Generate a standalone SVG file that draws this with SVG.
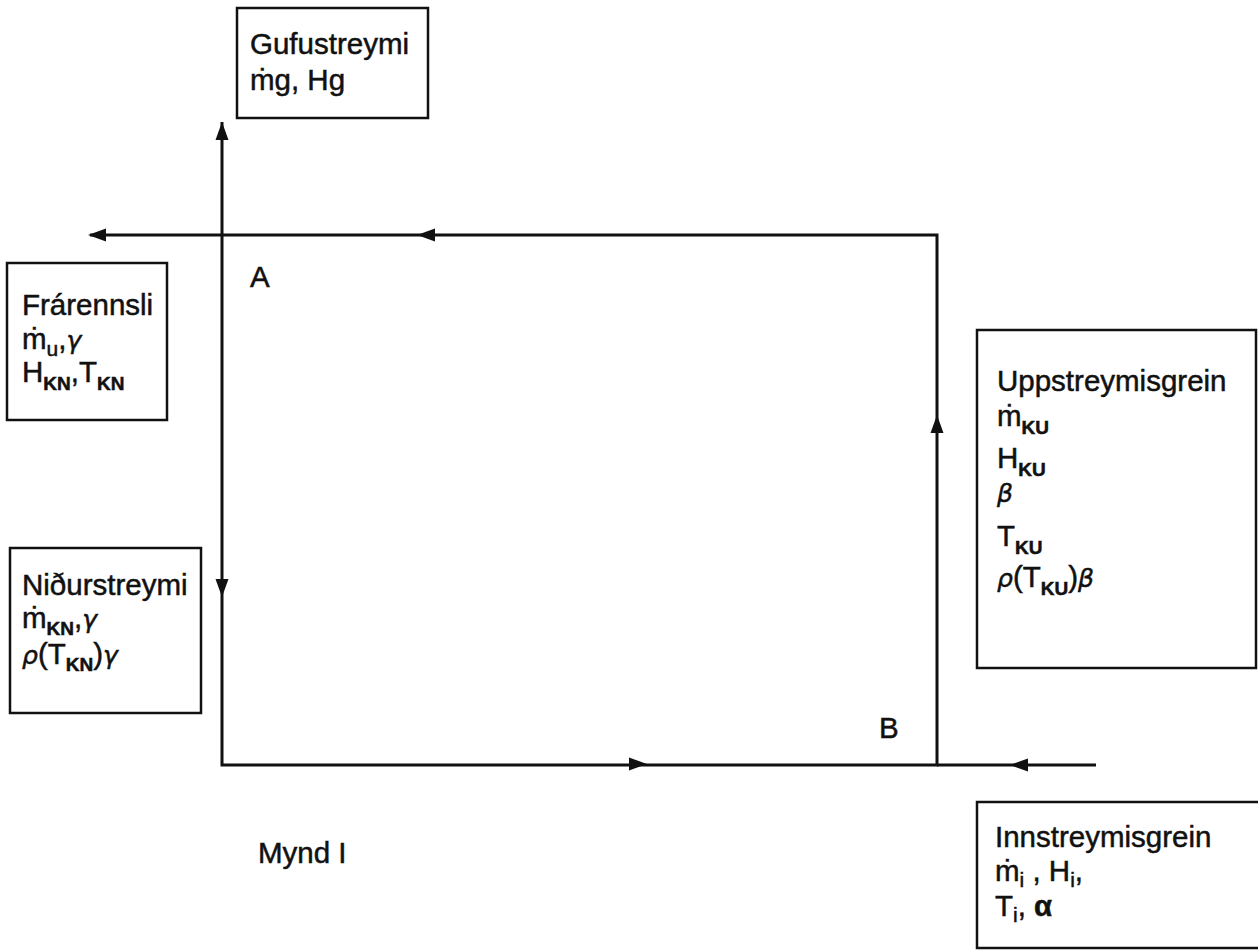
<svg xmlns="http://www.w3.org/2000/svg" xmlns:xlink="http://www.w3.org/1999/xlink" width="1258" height="951" viewBox="0 0 1258 951">
<style>
.box{fill:#fff;stroke:#111;stroke-width:2.5}
.ln{fill:none;stroke:#111;stroke-width:3}
.ah{fill:#111}
text{font-family:"Liberation Sans",Arial,sans-serif;font-size:29.5px;fill:#111;stroke:#111;stroke-width:0.5}
.sub{font-size:19px;font-weight:bold}
.subn{font-size:21px}
.gr{font-family:"DejaVu Sans","Liberation Sans",sans-serif;font-style:italic;font-size:25px}
</style>
<defs>
<path id="ah" class="ah" d="M0,0 L-18,-6.5 L-18,6.5 Z"/>
</defs>
<rect width="1258" height="951" fill="#fff"/>
<g id="connectors">
<path class="ln" d="M222,122 L222,765 L937,765 L937,235 L90,235"/>
<path class="ln" d="M1096,765 L937,765"/>
<use xlink:href="#ah" transform="translate(222,122) rotate(-90)"/>
<use xlink:href="#ah" transform="translate(222,597) rotate(90)"/>
<use xlink:href="#ah" transform="translate(647,764)"/>
<use xlink:href="#ah" transform="translate(1010,765) rotate(180)"/>
<use xlink:href="#ah" transform="translate(937,415) rotate(-90)"/>
<use xlink:href="#ah" transform="translate(417,235) rotate(180)"/>
<use xlink:href="#ah" transform="translate(88,235) rotate(180)"/>
</g>
<g id="gufustreymi">
<rect class="box" x="237" y="8" width="191" height="110"/>
<text x="250" y="54">Gufustreymi</text>
<text x="250" y="90">ṁg, Hg</text>
</g>
<g id="frarennsli">
<rect class="box" x="7" y="263" width="160" height="157"/>
<text x="22" y="315">Frárennsli</text>
<text x="22" y="349">ṁ<tspan class="subn" dy="7">u</tspan><tspan dy="-7">,</tspan><tspan class="gr">γ</tspan></text>
<text x="22" y="382">H<tspan class="sub" dy="8">KN</tspan><tspan dy="-8">,T</tspan><tspan class="sub" dy="8">KN</tspan></text>
</g>
<g id="nidurstreymi">
<rect class="box" x="10" y="548" width="191" height="165"/>
<text x="22" y="595">Niðurstreymi</text>
<text x="22" y="628">ṁ<tspan class="sub" dy="7">KN</tspan><tspan dy="-7">,</tspan><tspan class="gr">γ</tspan></text>
<text x="22" y="664"><tspan class="gr">ρ</tspan>(T<tspan class="sub" dy="7">KN</tspan><tspan dy="-7">)</tspan><tspan class="gr">γ</tspan></text>
</g>
<g id="uppstreymisgrein">
<rect class="box" x="977" y="330" width="279" height="338"/>
<text x="997" y="391">Uppstreymisgrein</text>
<text x="997" y="426">ṁ<tspan class="sub" dy="8">KU</tspan></text>
<text x="997" y="468">H<tspan class="sub" dy="8">KU</tspan></text>
<text x="997" y="502" class="gr">β</text>
<text x="997" y="546">T<tspan class="sub" dy="8">KU</tspan></text>
<text x="997" y="587"><tspan class="gr">ρ</tspan>(T<tspan class="sub" dy="8">KU</tspan><tspan dy="-8">)</tspan><tspan class="gr">β</tspan></text>
</g>
<g id="innstreymisgrein">
<rect class="box" x="977" y="802" width="290" height="146"/>
<text x="995" y="847">Innstreymisgrein</text>
<text x="995" y="881">ṁ<tspan class="subn" dy="6">i</tspan><tspan dy="-6"> , H</tspan><tspan class="subn" dy="6">i</tspan><tspan dy="-6">,</tspan></text>
<text x="995" y="916">T<tspan class="subn" dy="6">i</tspan><tspan dy="-6">, </tspan><tspan font-weight="bold">α</tspan></text>
</g>
<g id="labels">
<text x="250" y="287">A</text>
<text x="879" y="738">B</text>
<text x="258" y="863">Mynd I</text>
</g>
</svg>
